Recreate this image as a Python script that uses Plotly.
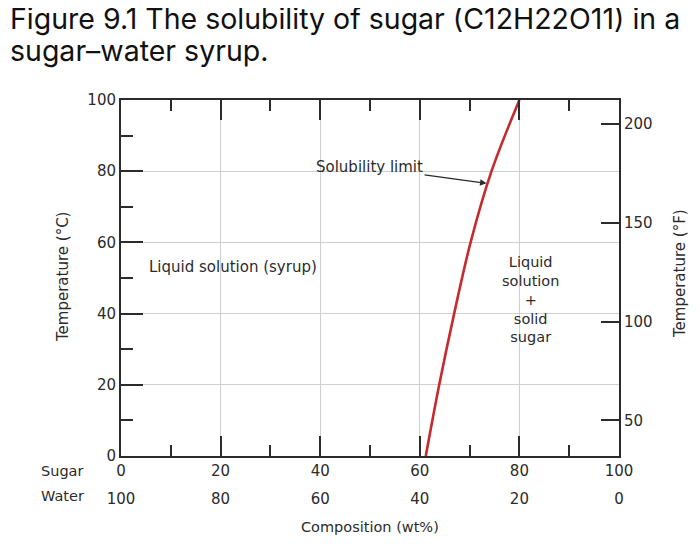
import plotly.graph_objects as go

# ---- data ----
temp_c = [0, 20, 40, 60, 80, 100]
sugar_wt = [61.2, 63.9, 66.9, 70.2, 74.4, 80.0]

sugar_ticks = [0, 20, 40, 60, 80, 100]
water_ticks = [100, 80, 60, 40, 20, 0]
temp_c_ticks = [0, 20, 40, 60, 80, 100]
temp_f_ticks = [50, 100, 150, 200]

title_lines = ["Figure 9.1 The solubility of sugar (C12H22O11) in a",
               "sugar\u2013water syrup."]

INK = "#2b2b2b"
GRID = "#cfcfcf"
FONT = "DejaVu Sans"

# page body has an 8px margin; figure sized to fit the window
FIG_W, FIG_H = 692, 540
ML, MR, MT, MB = 113, 81, 92, 40
REGION_H = FIG_H - MT - MB
PLOT_BOTTOM = 448  # figure px
dom_lo = (FIG_H - MB - PLOT_BOTTOM) / REGION_H


def px_x(s):  # screen px -> paper x
    return (s - 8 - ML) / (FIG_W - ML - MR)


def px_y(s):  # screen px -> paper y
    return (FIG_H - MB - (s - 8)) / REGION_H


fig = go.Figure()
fig.add_trace(go.Scatter(
    x=sugar_wt, y=temp_c, mode="lines",
    line=dict(color="#c62a2f", width=2.6, shape="spline", smoothing=1.0),
    showlegend=False, hoverinfo="skip",
))
# invisible trace to activate secondary axes
fig.add_trace(go.Scatter(x=[None], y=[None], xaxis="x2", yaxis="y2",
                         showlegend=False, hoverinfo="skip"))

tick_font = dict(family=FONT, size=15, color=INK)
axis_common = dict(linecolor=INK, linewidth=2, tickcolor=INK, tickwidth=2,
                   zeroline=False, tickfont=tick_font)

fig.update_layout(
    width=FIG_W, height=FIG_H,
    paper_bgcolor="white", plot_bgcolor="white",
    margin=dict(l=ML, r=MR, t=MT, b=MB),
    xaxis=dict(range=[0, 100], tickvals=sugar_ticks, ticks="inside", ticklen=20,
               showline=True, mirror="ticks", showgrid=True, gridcolor=GRID, gridwidth=1,
               minor=dict(ticks="inside", ticklen=11, dtick=10, tick0=0,
                          tickcolor=INK, tickwidth=2, showgrid=False),
               anchor="y", **axis_common),
    xaxis2=dict(range=[100, 0], tickvals=water_ticks, overlaying="x", anchor="free",
                position=0.050, side="bottom", showline=False, showgrid=False,
                ticks="", zeroline=False, tickfont=tick_font),
    yaxis=dict(range=[0, 100], tickvals=temp_c_ticks, ticks="inside", ticklen=22,
               showline=True, mirror=False, showgrid=True, gridcolor=GRID, gridwidth=1,
               minor=dict(ticks="inside", ticklen=12, dtick=10, tick0=0,
                          tickcolor=INK, tickwidth=2, showgrid=False),
               domain=[dom_lo, 1], anchor="x", **axis_common),
    yaxis2=dict(range=[32, 212], tickvals=temp_f_ticks, overlaying="y", side="right",
                anchor="x", ticks="inside", ticklen=18, showline=True, showgrid=False,
                **axis_common),
)

# title (two lines)
title_font = dict(family="Inter", size=28.5, color="#111111")
fig.add_annotation(text=title_lines[0], x=px_x(8), y=px_y(18), xref="paper", yref="paper",
                   xanchor="left", yanchor="middle", showarrow=False, font=title_font)
fig.add_annotation(text=title_lines[1], x=px_x(8), y=px_y(51), xref="paper", yref="paper",
                   xanchor="left", yanchor="middle", showarrow=False, font=title_font)

ann_font = dict(family=FONT, size=15, color=INK)
fig.add_annotation(text="Liquid solution (syrup)", x=22.5, y=53.1, xref="x", yref="y",
                   xanchor="center", yanchor="middle", showarrow=False, font=ann_font)
fig.add_annotation(text="Liquid<br>solution<br>+<br>solid<br>sugar", x=82.3, y=44.1,
                   xref="x", yref="y", xanchor="center", yanchor="middle",
                   showarrow=False, font=dict(family=FONT, size=14.5, color=INK))
fig.add_annotation(text="Solubility limit", x=73.4, y=76.6, xref="x", yref="y",
                   ax=-117, ay=-16, showarrow=True, arrowhead=2, arrowsize=1,
                   arrowwidth=1.3, arrowcolor=INK, standoff=0, font=ann_font)

lab_font = dict(family=FONT, size=14.5, color=INK)
fig.add_annotation(text="Sugar", x=px_x(62), y=px_y(471), xref="paper", yref="paper",
                   xanchor="center", yanchor="middle", showarrow=False, font=lab_font)
fig.add_annotation(text="Water", x=px_x(62), y=px_y(496), xref="paper", yref="paper",
                   xanchor="center", yanchor="middle", showarrow=False, font=lab_font)
fig.add_annotation(text="Composition (wt%)", x=px_x(370), y=px_y(527), xref="paper",
                   yref="paper", xanchor="center", yanchor="middle", showarrow=False,
                   font=dict(family=FONT, size=14.5, color=INK))
fig.add_annotation(text="Temperature (\u00b0C)", x=px_x(63), y=px_y(277), xref="paper",
                   yref="paper", xanchor="center", yanchor="middle", showarrow=False,
                   textangle=-90, font=dict(family=FONT, size=15, color=INK))
fig.add_annotation(text="Temperature (\u00b0F)", x=px_x(680), y=px_y(274), xref="paper",
                   yref="paper", xanchor="center", yanchor="middle", showarrow=False,
                   textangle=-90, font=dict(family=FONT, size=15, color=INK))

fig.write_html("out.html")
